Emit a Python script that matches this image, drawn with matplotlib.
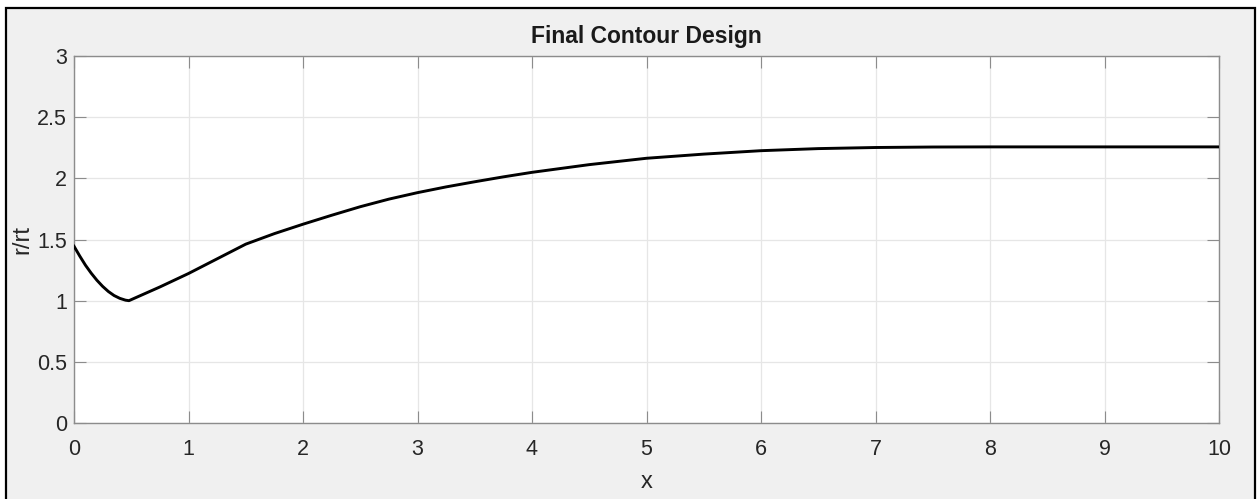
import matplotlib
matplotlib.use("Agg")
import matplotlib.pyplot as plt
from matplotlib.patches import Rectangle

# Data
x_vals = [0.0, 0.05, 0.1, 0.15, 0.2, 0.25, 0.3, 0.35, 0.4, 0.45, 0.48,
          0.75, 1.0, 1.25, 1.5, 1.75, 2.0, 2.25, 2.5, 2.75, 3.0, 3.25, 3.5,
          3.75, 4.0, 4.5, 5.0, 5.5, 6.0, 6.5, 7.0, 7.5, 8.0, 9.0, 10.0]
r_vals = [1.445, 1.365, 1.29, 1.225, 1.167, 1.117, 1.075, 1.042, 1.019, 1.004, 1.0,
          1.112, 1.222, 1.342, 1.462, 1.548, 1.625, 1.698, 1.768, 1.83, 1.883, 1.93, 1.972,
          2.012, 2.049, 2.112, 2.164, 2.198, 2.226, 2.243, 2.252, 2.256, 2.257, 2.257, 2.257]
x_ticks = [0, 1, 2, 3, 4, 5, 6, 7, 8, 9, 10]
y_ticks = [0, 0.5, 1, 1.5, 2, 2.5, 3]
y_tick_labels = ["0", "0.5", "1", "1.5", "2", "2.5", "3"]

plt.rcParams['font.family'] = ['Liberation Sans', 'DejaVu Sans']

W, H = 1257, 499
fig = plt.figure(figsize=(W / 100, H / 100), dpi=100, facecolor='white')

# gray figure panel with black border
fig.patches.append(Rectangle((6 / W, -0.02), (1255 - 6) / W, (H - 8) / H + 0.02,
                             transform=fig.transFigure, facecolor='#f0f0f0',
                             edgecolor='black', linewidth=1.6, zorder=-10))

ax = fig.add_axes([74 / W, (H - 423) / H, (1219 - 74) / W, (423 - 56) / H])
ax.set_zorder(5)
ax.set_facecolor('white')
ax.plot(x_vals, r_vals, color='black', linewidth=2.1, zorder=3,
        solid_joinstyle='round')

ax.set_xlim(0, 10)
ax.set_ylim(0, 3)
ax.set_xticks(x_ticks)
ax.set_xticklabels([str(t) for t in x_ticks])
ax.set_yticks(y_ticks)
ax.set_yticklabels(y_tick_labels)

tc = '#262626'
ax.tick_params(axis='both', direction='in', length=8.5, width=0.8, color='#8c8c8c',
               labelsize=15.5, labelcolor=tc, top=True, right=True)
ax.tick_params(axis='x', pad=11.5)
ax.tick_params(axis='y', pad=5)
for s in ax.spines.values():
    s.set_color('#8c8c8c')
    s.set_linewidth(1.0)

ax.grid(True, color='#e6e6e6', linewidth=0.9)
ax.set_axisbelow(True)

ax.set_title('Final Contour Design', fontsize=16.5, fontweight='bold', color='#1a1a1a', pad=9)
ax.set_xlabel('x', fontsize=17, color=tc, labelpad=8)
ax.set_ylabel('r/rt', fontsize=17, color=tc, labelpad=3)

fig.savefig('out.png', dpi=100, facecolor=fig.get_facecolor())
